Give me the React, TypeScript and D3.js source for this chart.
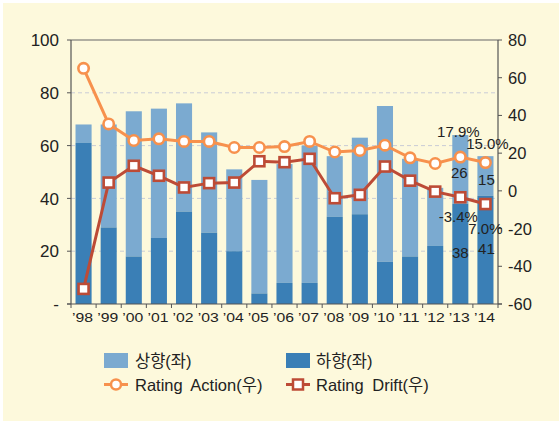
import * as d3 from "d3";

const years = ["98", "99", "00", "01", "02", "03", "04", "05", "06", "07", "08", "09", "10", "11", "12", "13", "14"];
const upgrades = [7, 39, 55, 49, 41, 38, 31, 43, 45, 52, 23, 29, 59, 37, 22, 26, 15];
const downgrades = [61, 29, 18, 25, 35, 27, 20, 4, 8, 8, 33, 34, 16, 18, 22, 38, 41];
const ratingAction = [65, 35.5, 26.7, 27.6, 26.2, 26.2, 23, 23, 23.5, 26.2, 20.6, 21.4, 24.2, 17.5, 14.5, 17.9, 15.0];
const ratingDrift = [-52, 4.4, 13.3, 8, 1.8, 4.1, 4.4, 15.7, 15.2, 17, -3.9, -2.1, 12.9, 5.4, -0.4, -3.4, -7.0];
const leftTicks = [0, 20, 40, 60, 80, 100];
const rightTicks = [-60, -40, -20, 0, 20, 40, 60, 80];

const W = 559;
const H = 421;
const m = { left: 71, right: 498, top: 40, bottom: 304 };
const FONT = "'Liberation Sans', Arial, 'Noto Sans CJK KR', sans-serif";

const C_UP = "#7baad0";
const C_DOWN = "#3a7fb6";
const C_ACT = "#f7914d";
const C_DRIFT = "#bd4b36";

export default function App() {
  const x = d3.scaleBand().domain(years).range([m.left, m.right]).paddingInner(0.36).paddingOuter(0.18);
  const yL = d3.scaleLinear().domain([0, 100]).range([m.bottom, m.top]);
  const yR = d3.scaleLinear().domain([-60, 80]).range([m.bottom, m.top]);
  const cx = (i: number) => (x(years[i]) as number) + x.bandwidth() / 2;
  const step = x.step();

  const line = d3.line<number>().x((_, i) => cx(i)).y((d) => yR(d));

  const n = years.length - 1;
  const i13 = n - 1;

  return (
    <svg width={W} height={H} style={{ display: "block", position: "absolute", left: 0, top: 0 }} fontFamily={FONT}>
      <rect x={0} y={0} width={W} height={H} fill="#ffffff" />
      <rect x={3} y={3} width={W - 3} height={H - 3} fill="#fdf9dc" />

      {/* gridlines */}
      {leftTicks.filter((t) => t > 0 && t < 100).map((t) => (
        <line key={t} x1={m.left} x2={m.right} y1={yL(t)} y2={yL(t)} stroke="#c9ccd6" strokeDasharray="4,3" strokeWidth={1} />
      ))}

      {/* bars */}
      {years.map((yr, i) => (
        <g key={yr}>
          <rect x={x(yr)} width={x.bandwidth()} y={yL(downgrades[i] + upgrades[i])} height={yL(downgrades[i]) - yL(downgrades[i] + upgrades[i])} fill={C_UP} />
          <rect x={x(yr)} width={x.bandwidth()} y={yL(downgrades[i])} height={yL(0) - yL(downgrades[i])} fill={C_DOWN} />
        </g>
      ))}

      {/* frame and axes */}
      <line x1={m.left} x2={m.right} y1={m.top} y2={m.top} stroke="#666" strokeWidth={1.2} />
      <line x1={m.left} x2={m.left} y1={m.top} y2={m.bottom} stroke="#555" strokeWidth={1.2} />
      <line x1={m.right} x2={m.right} y1={m.top} y2={m.bottom} stroke="#555" strokeWidth={1.2} />
      <line x1={m.left - 4} x2={m.right + 4} y1={m.bottom} y2={m.bottom} stroke="#555" strokeWidth={1.2} />
      {d3.range(years.length + 1).map((k) => (
        <line key={k} x1={m.left + k * step} x2={m.left + k * step} y1={m.bottom} y2={m.bottom + 4} stroke="#555" strokeWidth={1} />
      ))}
      {leftTicks.map((t) => (
        <g key={t}>
          <line x1={m.left - 4} x2={m.left} y1={yL(t)} y2={yL(t)} stroke="#555" strokeWidth={1} />
          <text x={59} y={yL(t)} dy="0.36em" textAnchor="end" fontSize={17} fill="#222">{t === 0 ? "-" : t}</text>
        </g>
      ))}
      {rightTicks.map((t) => (
        <g key={t}>
          <line x1={m.right} x2={m.right + 4} y1={yR(t)} y2={yR(t)} stroke="#555" strokeWidth={1} />
          <text x={508} y={yR(t)} dy="0.36em" textAnchor="start" fontSize={16.5} fill="#222">{t}</text>
        </g>
      ))}
      {years.map((yr, i) => (
        <text key={yr} x={cx(i) - 1} y={322} textAnchor="middle" fontSize={12} fill="#222" textLength={21} lengthAdjust="spacingAndGlyphs">{"\u2019" + yr}</text>
      ))}

      {/* lines */}
      <path d={line(ratingAction) || undefined} fill="none" stroke={C_ACT} strokeWidth={3} />
      <path d={line(ratingDrift) || undefined} fill="none" stroke={C_DRIFT} strokeWidth={3} />
      {ratingAction.map((v, i) => (
        <circle key={i} cx={cx(i)} cy={yR(v)} r={5.2} fill="#fff" stroke={C_ACT} strokeWidth={2.6} />
      ))}
      {ratingDrift.map((v, i) => (
        <rect key={i} x={cx(i) - 5} y={yR(v) - 5} width={10} height={10} fill="#fff" stroke={C_DRIFT} strokeWidth={2.6} />
      ))}

      {/* annotations */}
      <g fontSize={15} fill="#222" textAnchor="middle">
        <text x={cx(i13) - 2} y={yR(ratingAction[i13]) - 20}>17.9%</text>
        <text x={cx(n) + 2} y={yR(ratingAction[n]) - 14}>15.0%</text>
        <text x={cx(i13) - 1} y={yL(downgrades[i13] + upgrades[i13] / 2) + 9}>{upgrades[i13]}</text>
        <text x={cx(n) + 1} y={yL(downgrades[n] + upgrades[n] / 2) + 9}>{upgrades[n]}</text>
        <text x={cx(i13) - 2} y={yR(ratingDrift[i13]) + 25}>-3.4%</text>
        <text x={cx(n)} y={yR(ratingDrift[n]) + 30}>7.0%</text>
        <text x={cx(i13)} y={yL(downgrades[i13] / 2) + 4}>{downgrades[i13]}</text>
        <text x={cx(n) + 1} y={yL(downgrades[n] / 2) + 4}>{downgrades[n]}</text>
      </g>

      {/* legend */}
      <g fontSize={16.5} fill="#222">
        <rect x={104} y={353} width={24} height={15} fill={C_UP} />
        <text x={135} y={367}>상향(좌)</text>
        <rect x={286} y={353} width={24} height={15} fill={C_DOWN} />
        <text x={316} y={367}>하향(좌)</text>
        <line x1={104} x2={128} y1={384.5} y2={384.5} stroke={C_ACT} strokeWidth={3} />
        <circle cx={116} cy={384.5} r={5} fill="#fff" stroke={C_ACT} strokeWidth={2.5} />
        <text x={135} y={391} wordSpacing={4}>Rating Action(우)</text>
        <line x1={286} x2={310} y1={384.5} y2={384.5} stroke={C_DRIFT} strokeWidth={3} />
        <rect x={293} y={379.5} width={10} height={10} fill="#fff" stroke={C_DRIFT} strokeWidth={2.5} />
        <text x={316} y={391} wordSpacing={4}>Rating Drift(우)</text>
      </g>
    </svg>
  );
}
